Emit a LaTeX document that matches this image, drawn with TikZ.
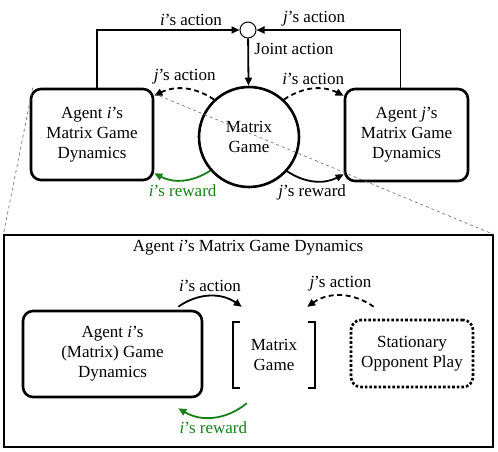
\documentclass[tikz,border=0pt]{standalone}
\usepackage{fontspec}
\setmainfont{Liberation Serif}
\usetikzlibrary{arrows.meta}
\definecolor{rewardgreen}{rgb}{0.09,0.5,0.09}
\begin{document}
\begin{tikzpicture}[x=1pt,y=-1pt,font=\fontsize{17}{20}\selectfont,
        >={Triangle[length=8pt,width=7pt]},
        agent/.style = {draw, rounded corners=10pt, line width=2.6pt, align=center, inner sep=0pt},
        game/.style = {draw, circle, line width=2.6pt, align=center, minimum size=100pt, inner sep=0pt},
        joint/.style = {draw, circle, line width=1pt, minimum size=16pt, inner sep=0pt},
        flow/.style = {->, line width=1.8pt},
        guess/.style = {flow, dash pattern=on 5pt off 3.5pt},
        zoomline/.style = {draw=gray!80!black, dashed, line width=0.6pt}]
        \useasboundingbox (0,0) rectangle (498,451);
        % top: two agents and the matrix game
        \node[joint] (J) at (248,30) {};
        \node[game] (MG) at (249,137) {Matrix\\Game};
        \node[agent, minimum width=122pt, minimum height=91pt] (AI) at (92,134.5) {Agent \textit{i}'s\\Matrix Game\\Dynamics};
        \node[agent, minimum width=123pt, minimum height=92pt] (AJ) at (406.5,135) {Agent \textit{j}'s\\Matrix Game\\Dynamics};
        \draw[flow] ([xshift=5pt]AI.north) |- node[above, pos=0.83] {\textit{i}'s action} (J.west);
        \draw[flow] ([xshift=-6pt]AJ.north) |- node[above, pos=0.8] {\textit{j}'s action} (J.east);
        \draw[flow] (J) -- node[right, pos=0.22, xshift=2pt] {Joint action} (MG);
        \draw[guess] (MG.133) to[bend right=30] node[above] {\textit{j}'s action} ([yshift=-8pt]AI.north east);
        \draw[guess] (MG.47) to[bend left=30] node[above] {\textit{i}'s action} ([yshift=-8pt]AJ.north west);
        \draw[flow, rewardgreen] (MG.221) to[bend left=30] node[below, text=rewardgreen] {\textit{i}'s reward} ([yshift=8pt]AI.south east);
        \draw[flow] (MG.-42) to[bend right=30] node[below, pos=0.45] {\textit{j}'s reward} ([yshift=8pt]AJ.south west);
        % bottom: inside agent i
        \node[draw, line width=1.2pt, minimum width=489pt, minimum height=212pt, inner sep=0pt] (big) at (248.5,341) {};
        \node (title) at (248,248) {Agent \textit{i}'s Matrix Game Dynamics};
        \node[agent, minimum width=179pt, minimum height=86pt] (AIL) at (112.5,354) {Agent \textit{i}'s\\(Matrix) Game\\Dynamics};
        \node[align=center, minimum width=82pt, minimum height=66pt, inner sep=0pt] (M) at (274,355) {Matrix\\Game};
        \draw[line width=1.8pt] ([xshift=7pt]M.north west) -- (M.north west) -- (M.south west) -- ([xshift=7pt]M.south west);
        \draw[line width=1.8pt] ([xshift=-7pt]M.north east) -- (M.north east) -- (M.south east) -- ([xshift=-7pt]M.south east);
        \node[agent, dotted, minimum width=122pt, minimum height=67pt] (SO) at (412,353.5) {Stationary\\Opponent Play};
        \draw[flow] ([xshift=-25pt,yshift=3pt]AIL.north east) to[bend left=35] node[above] {\textit{i}'s action} ([xshift=9pt,yshift=15pt]M.north west);
        \draw[guess] ([xshift=24pt,yshift=12pt]SO.north west) to[bend right=35] node[above] {\textit{j}'s action} ([xshift=-8pt,yshift=15pt]M.north east);
        \draw[flow, rewardgreen] ([xshift=14pt,yshift=-15pt]M.south west) to[bend left=35] node[below, text=rewardgreen] {\textit{i}'s reward} ([xshift=-25pt,yshift=-10pt]AIL.south east);
        % zoom lines
        \draw[zoomline] ([yshift=-6pt]AI.north east) -- (big.north east);
        \draw[zoomline] ([xshift=3pt]AI.north west) -- (big.north west);
\end{tikzpicture}
\end{document}
